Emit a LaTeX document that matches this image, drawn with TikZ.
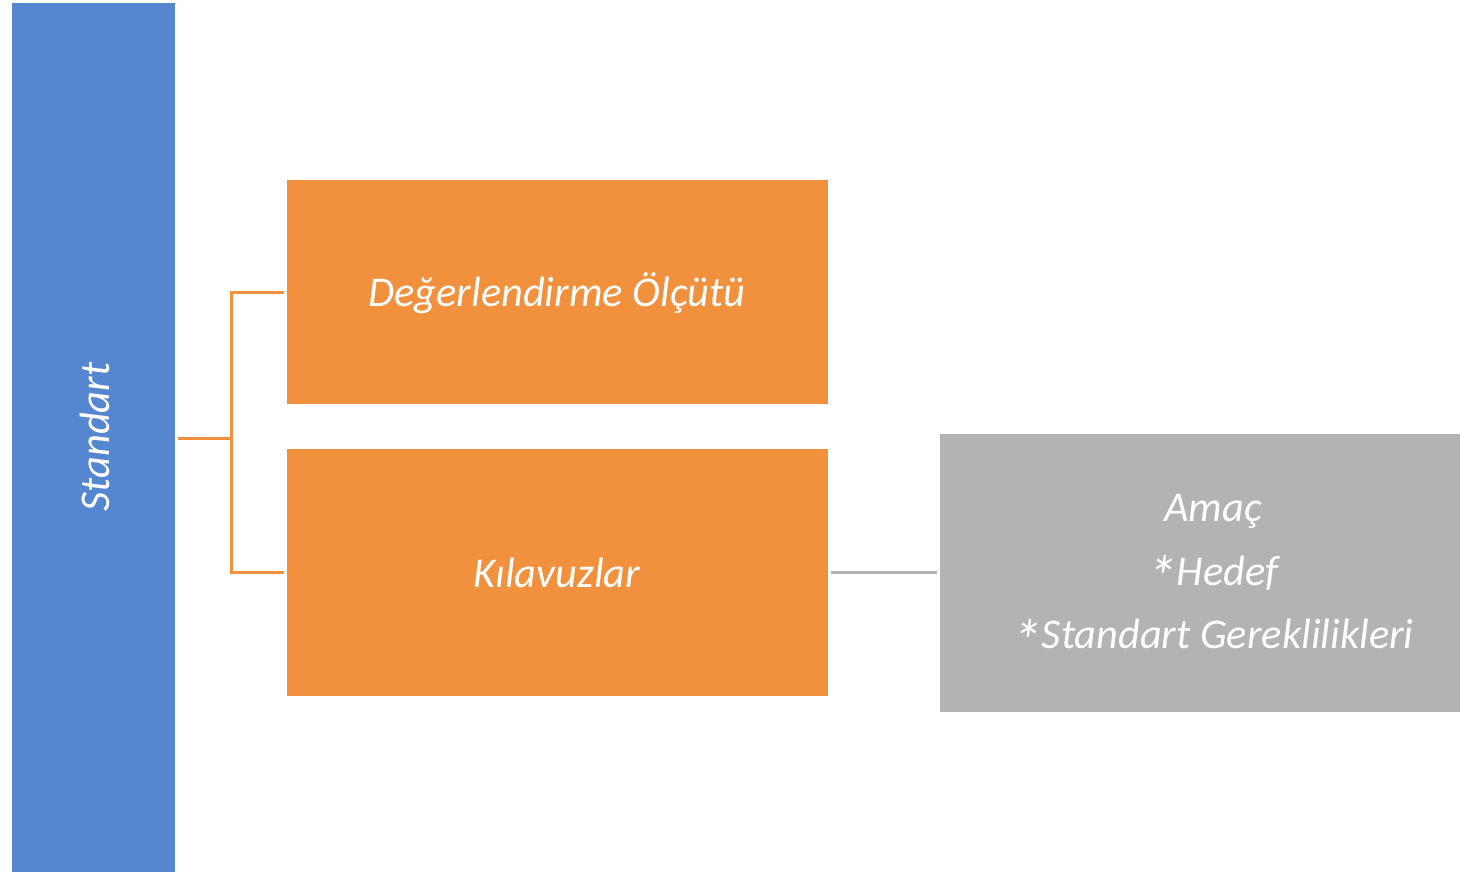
\documentclass[tikz,border=0pt]{standalone}
\usepackage{fontspec}
\setmainfont{Carlito}
\definecolor{cblue}{HTML}{5586D0}
\definecolor{corange}{HTML}{F2913D}
\definecolor{cgray}{HTML}{B3B3B3}
\newcommand{\bigast}{\raisebox{-0.3em}{\scalebox{1.4}{*}}}
\begin{document}
\begin{tikzpicture}[x=0.5pt,y=-0.5pt,
  box/.style={draw=none,inner sep=0pt,text=white,font=\fontsize{21.2}{31.75}\selectfont\itshape},
  oline/.style={draw=corange,line width=1.5pt},
  gline/.style={draw=cgray,line width=1.5pt}]
\useasboundingbox (0,0) rectangle (1460,872);
\fill[cblue] (12,3) rectangle (175,872);
\node[box] (std) at (95,437) {\rotatebox{90}{Standart}};
\coordinate (stdE) at (178,438);
\fill[corange] (287,180) rectangle (828,404);
\node[box] (deg) at (557,293) {Değerlendirme Ölçütü};
\coordinate (degW) at (284,292);
\fill[corange] (287,449) rectangle (828,696);
\node[box] (kil) at (557,573) {Kılavuzlar};
\coordinate (kilW) at (284,572);
\coordinate (kilE) at (831,572);
\fill[cgray] (940,434) rectangle (1460,712);
\node[box,align=center] (amac) at (1213,578) {Amaç\\\bigast Hedef\\\bigast Standart Gereklilikleri};
\coordinate (amacW) at (937,572);
\coordinate (jn) at (231,438);
\draw[oline] (stdE) -- (jn);
\draw[oline] (degW) -| (jn) |- (kilW);
\draw[gline] (kilE) -- (amacW);
\end{tikzpicture}
\end{document}
